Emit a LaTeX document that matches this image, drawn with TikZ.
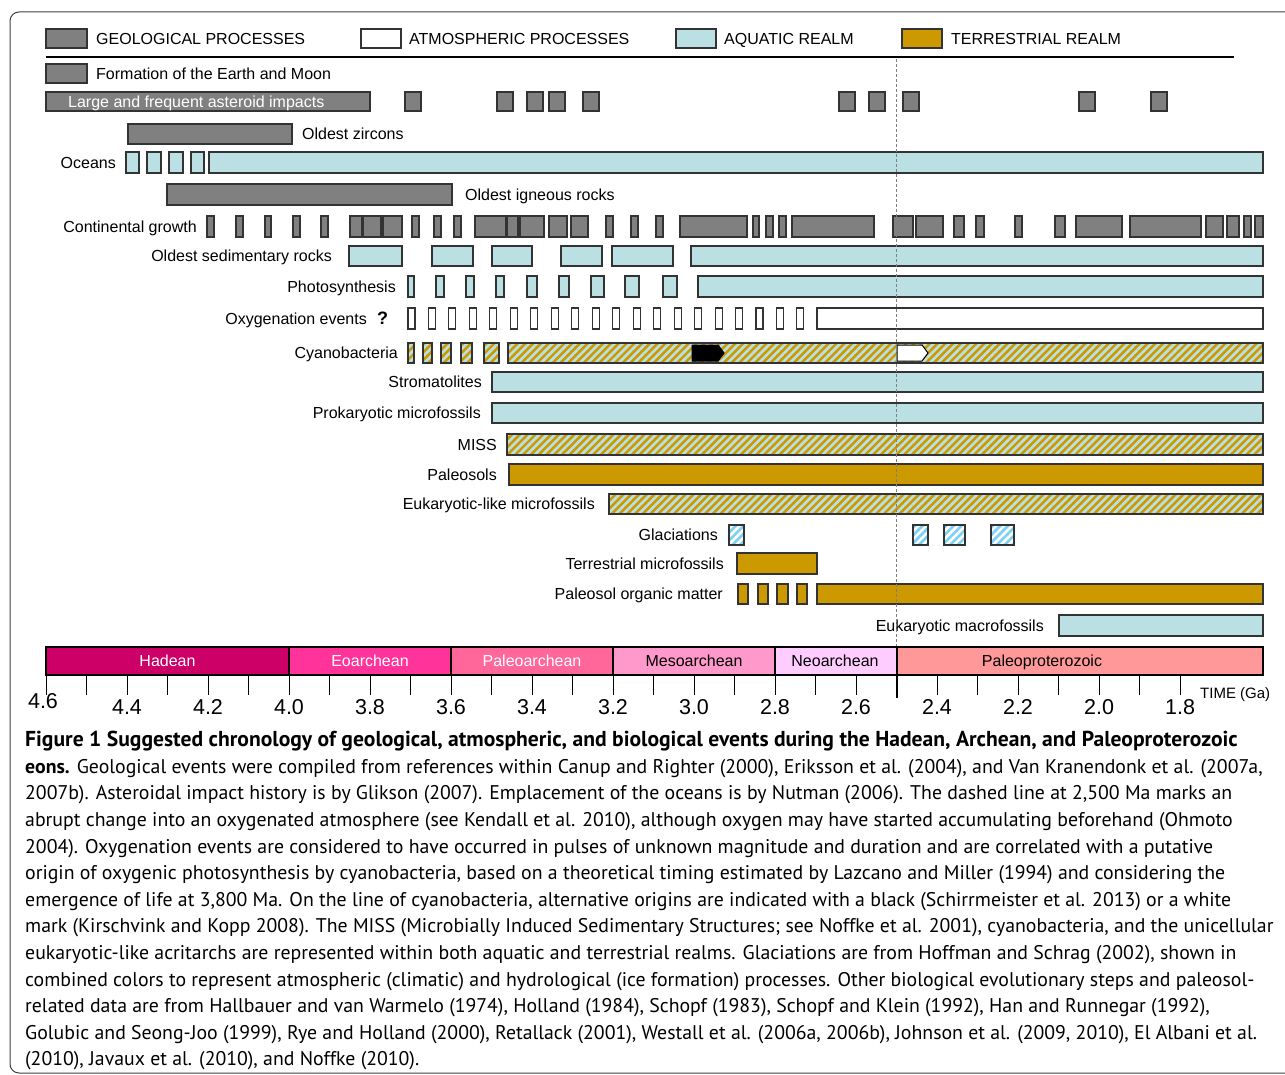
\documentclass[tikz,border=0pt]{standalone}
\usepackage{fontspec}
\setmainfont{Liberation Sans}
\newfontfamily\capfont{PT Sans}
\usetikzlibrary{patterns.meta}

\definecolor{geogray}{HTML}{808080}
\definecolor{aqua}{HTML}{BBE0E3}
\definecolor{terra}{HTML}{CC9900}
\definecolor{icestripe}{HTML}{7FD0F5}
\definecolor{hadean}{HTML}{CC0066}
\definecolor{eoarch}{HTML}{FF3399}
\definecolor{paleoarch}{HTML}{FF6699}
\definecolor{mesoarch}{HTML}{FF99CC}
\definecolor{neoarch}{HTML}{FFCCFF}
\definecolor{paleoprot}{HTML}{FF9999}

\begin{document}
\begin{tikzpicture}[x=1pt,y=-1pt,
  evbar/.style={draw=black!80, line width=1.1pt},
  geo/.style={evbar, fill=geogray},
  atm/.style={evbar, fill=white},
  aq/.style={evbar, fill=aqua},
  ter/.style={evbar, fill=terra},
  mix/.style={evbar, preaction={fill=terra}, pattern={Lines[angle=45,distance=5.5pt,line width=2.7pt]}, pattern color=aqua},
  ice/.style={evbar, preaction={fill=white}, pattern={Lines[angle=45,distance=5.5pt,line width=2.7pt]}, pattern color=icestripe},
  lbl/.style={inner sep=0pt, text height=11.5pt, text depth=0pt, font=\fontsize{16}{19}\selectfont},
  row/.style={lbl, anchor=east},
  legtext/.style={lbl, anchor=west},
  ticklbl/.style={inner sep=0pt, anchor=base, font=\fontsize{21.5}{24}\selectfont}]
\useasboundingbox (0,0) rectangle (1285,1075);

% frame
\draw[black!75, line width=1pt, rounded corners=9pt] (1285,12) -- (10,12) -- (10,1073) -- (1285,1073);

% legend
\draw[geo] (46,29) rectangle (87,48);
\node[legtext] (leggeo) at (96,38.5) {GEOLOGICAL PROCESSES};
\draw[atm] (361,29) rectangle (401,48);
\node[legtext] (legatm) at (409,38.5) {ATMOSPHERIC PROCESSES};
\draw[aq] (676,29) rectangle (716,48);
\node[legtext] (legaq) at (724,38.5) {AQUATIC REALM};
\draw[ter] (902,29) rectangle (942,48);
\node[legtext] (legter) at (951,38.5) {TERRESTRIAL REALM};
\draw[line width=1.1pt] (46,57) -- (1234,57);

% geological rows
\draw[geo] (46,64) rectangle (87,83);
\node[legtext] (earthmoon) at (96,73.5) {Formation of the Earth and Moon};

\draw[geo] (46,92) rectangle (370,111);
\node[legtext, text=white] (impacts) at (68,101.5) {Large and frequent asteroid impacts};
\foreach \a in {405,497,527,549,583,839,869,903,1079,1151}
  \draw[geo] (\a,92) rectangle ++(16,19);

\draw[geo] (128,124) rectangle (292,144);
\node[legtext] (zircons) at (302,134) {Oldest zircons};

\node[row] (oceans) at (116,162.5) {Oceans};
\foreach \a/\b in {126/139,147/161,169/183,191/204,209/1263}
  \draw[aq] (\a,152) rectangle (\b,173);

\draw[geo] (167,184) rectangle (452,205);
\node[legtext] (igneous) at (465,194.5) {Oldest igneous rocks};

\node[row] (continent) at (197,226.5) {Continental growth};
\foreach \a/\b in {207/214,236/243,265/271,293/300,321/328,350/362,363/381,383/402,
    412/419,434/441,454/461,475/506,507/518,520/544,549/567,571/588,606/613,631/638,
    656/663,680/747,753/759,766/773,779/786,792/874,893/913,916/943,954/964,976/984,
    1015/1022,1055/1065,1076/1122,1130/1201,1206/1223,1227/1239,1244/1251,1255/1263}
  \draw[geo] (\a,216) rectangle (\b,237);

\node[row] (sedrocks) at (332,256) {Oldest sedimentary rocks};
\foreach \a/\b in {349/402,432/473,492/532,561/602,612/673,691/1263}
  \draw[aq] (\a,246) rectangle (\b,266);

% life and atmosphere
\node[row] (photo) at (396,286.5) {Photosynthesis};
\foreach \a/\b in {408/414,436/444,466/474,496/504,527/537,559/569,591/604,625/639,663/677,698/1263}
  \draw[aq] (\a,276) rectangle (\b,297);

\node[row] (oxygen) at (367,318.5) {Oxygenation events};
\node[inner sep=0pt, font=\fontsize{18}{20}\selectfont\bfseries] (oxyq) at (382.5,318.5) {?};
\foreach \i in {0,...,19}
  \draw[atm] ({408+20.47*\i},308) rectangle ++(7,21);
\draw[atm] (817,308) rectangle (1263,329);

\node[row] (cyano) at (398,353) {Cyanobacteria};
\foreach \a/\b in {408/414,423/432,441/451,461/472,484/499,508/1263}
  \draw[mix] (\a,343) rectangle (\b,363);
\draw[fill=black, line width=1pt] (692,345) -- (718,345) -- (724,353) -- (718,361) -- (692,361) -- cycle;
\draw[fill=white, line width=1pt] (897,345) -- (922,345) -- (928,353) -- (922,361) -- (897,361) -- cycle;

\node[row] (strom) at (482,382) {Stromatolites};
\draw[aq] (492,372) rectangle (1263,392);

\node[row] (prok) at (481,413) {Prokaryotic microfossils};
\draw[aq] (492,403) rectangle (1263,423);

\node[row] (miss) at (497,444.5) {MISS};
\draw[mix] (507,434) rectangle (1263,455);

\node[row] (paleosols) at (497,474.5) {Paleosols};
\draw[ter] (509,464) rectangle (1263,485);

\node[row] (euklike) at (595,504) {Eukaryotic-like microfossils};
\draw[mix] (609,494) rectangle (1263,514);

\node[row] (glac) at (718,535) {Glaciations};
\foreach \a/\b in {729/744,913/928,944/965,991/1014}
  \draw[ice] (\a,525) rectangle (\b,545);

\node[row] (terrmicro) at (724,563.5) {Terrestrial microfossils};
\draw[ter] (737,553) rectangle (817,574);

\node[row] (paleoom) at (723,594) {Paleosol organic matter};
\foreach \a/\b in {738/748,758/768,777/788,797/807,817/1263}
  \draw[ter] (\a,584) rectangle (\b,604);

\node[row] (eukmacro) at (1044,625.5) {Eukaryotic macrofossils};
\draw[aq] (1059,615) rectangle (1263,636);

% 2.5 Ga line
\draw[gray, densely dashed, line width=0.6pt] (896.5,59) -- (896.5,646);

% time scale
\draw[fill=hadean, line width=1.1pt] (46,647) rectangle (289,675);
\draw[fill=eoarch, line width=1.1pt] (289,647) rectangle (451,675);
\draw[fill=paleoarch, line width=1.1pt] (451,647) rectangle (613,675);
\draw[fill=mesoarch, line width=1.1pt] (613,647) rectangle (775,675);
\draw[fill=neoarch, line width=1.1pt] (775,647) rectangle (896.5,675);
\draw[fill=paleoprot, line width=1.1pt] (896.5,647) rectangle (1263,675);
\node[lbl, text=white] (hadeanlbl) at (167.5,661) {Hadean};
\node[lbl, text=white] (eolbl) at (370,661) {Eoarchean};
\node[lbl, text=white] (paleolbl) at (532,661) {Paleoarchean};
\node[lbl] (mesolbl) at (694,661) {Mesoarchean};
\node[lbl] (neolbl) at (835,661) {Neoarchean};
\node[lbl] (proterolbl) at (1042,661) {Paleoproterozoic};

\foreach \i in {0,...,28}
  \draw[line width=1pt] ({46+40.5*\i},675) -- ++(0,20);
\draw[line width=2pt] (896.5,647) -- (896.5,698);

\node[ticklbl] (t46) at (43,708) {4.6};
\foreach \v [count=\k] in {4.4,4.2,4.0,3.8,3.6,3.4,3.2,3.0,2.8,2.6,2.4,2.2,2.0,1.8}
  \node[ticklbl] (t\k) at ({46+81*\k},714) {\v};
\node[inner sep=0pt, anchor=base west, font=\fontsize{15}{18}\selectfont] (timelbl) at (1200,698) {TIME (Ga)};

% caption
\node[anchor=north west, inner sep=0pt, align=left, font=\capfont\fontsize{19.8}{26.6}\selectfont] (caption) at (25,731) {%
{\fontsize{21.6}{26.6}\selectfont\bfseries Figure 1 Suggested chronology of geological, atmospheric, and biological events during the Hadean, Archean, and Paleoproterozoic}\\
\textbf{eons.} Geological events were compiled from references within Canup and Righter (2000), Eriksson et al. (2004), and Van Kranendonk et al. (2007a,\\
2007b). Asteroidal impact history is by Glikson (2007). Emplacement of the oceans is by Nutman (2006). The dashed line at 2,500 Ma marks an\\
abrupt change into an oxygenated atmosphere (see Kendall et al. 2010), although oxygen may have started accumulating beforehand (Ohmoto\\
2004). Oxygenation events are considered to have occurred in pulses of unknown magnitude and duration and are correlated with a putative\\
origin of oxygenic photosynthesis by cyanobacteria, based on a theoretical timing estimated by Lazcano and Miller (1994) and considering the\\
emergence of life at 3,800 Ma. On the line of cyanobacteria, alternative origins are indicated with a black (Schirrmeister et al. 2013) or a white\\
mark (Kirschvink and Kopp 2008). The MISS (Microbially Induced Sedimentary Structures; see Noffke et al. 2001), cyanobacteria, and the unicellular\\
eukaryotic-like acritarchs are represented within both aquatic and terrestrial realms. Glaciations are from Hoffman and Schrag (2002), shown in\\
combined colors to represent atmospheric (climatic) and hydrological (ice formation) processes. Other biological evolutionary steps and paleosol-\\
related data are from Hallbauer and van Warmelo (1974), Holland (1984), Schopf (1983), Schopf and Klein (1992), Han and Runnegar (1992),\\
Golubic and Seong-Joo (1999), Rye and Holland (2000), Retallack (2001), Westall et al. (2006a, 2006b), Johnson et al. (2009, 2010), El Albani et al.\\
(2010), Javaux et al. (2010), and Noffke (2010).};
\end{tikzpicture}
\end{document}
